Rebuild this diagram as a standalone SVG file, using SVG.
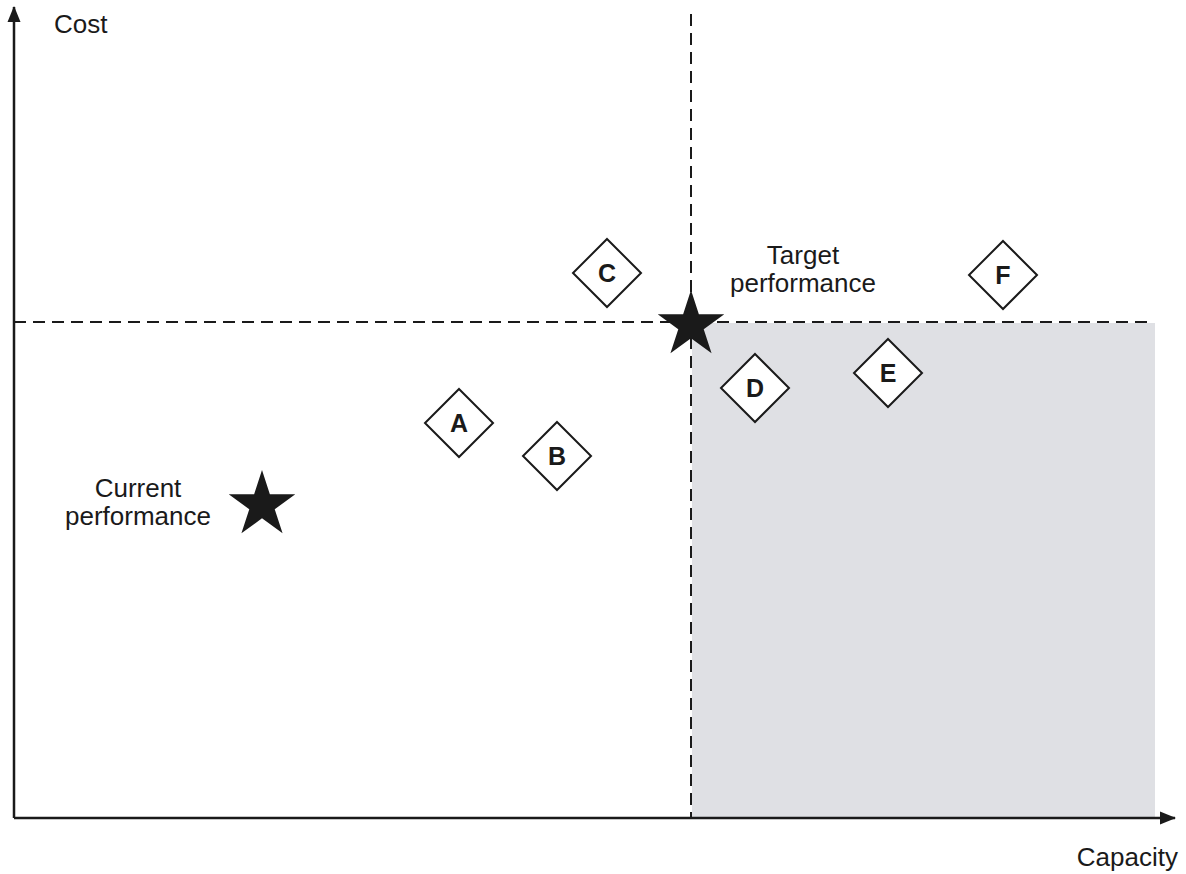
<svg xmlns="http://www.w3.org/2000/svg" width="1186" height="874" viewBox="0 0 1186 874">
<defs>
<style>
text{font-family:"Liberation Sans",Arial,sans-serif;fill:#1a1a1a}
.lbl{font-size:26px}
.let{font-size:25px;font-weight:bold;text-anchor:middle}
.dia{fill:#fff;stroke:#1a1a1a;stroke-width:2}
.dash{stroke:#1a1a1a;stroke-width:2;stroke-dasharray:12 7;fill:none}
.axis{stroke:#1a1a1a;stroke-width:2.5;fill:none}
.star{fill:#1a1a1a}
</style>
<marker id="arr" markerWidth="16" markerHeight="16" refX="15" refY="8" orient="auto" markerUnits="userSpaceOnUse" viewBox="0 0 16 16">
<path d="M0,1.5 L16,8 L0,14.5 z" fill="#1a1a1a"/>
</marker>
<polygon id="starshape" points="0,-35 7.86,-10.82 33.29,-10.82 12.72,4.13 20.57,28.32 0,13.37 -20.57,28.32 -12.72,4.13 -33.29,-10.82 -7.86,-10.82"/>
<polygon id="diamond" points="0,-34 34,0 0,34 -34,0"/>
</defs>
<rect id="region" x="692" y="323" width="463" height="494" fill="#dfe0e4"/>
<g id="connectors">
<line class="dash" x1="14" y1="322" x2="1148" y2="322"/>
<line class="dash" x1="691" y1="14" x2="691" y2="818"/>
<line id="y-axis" class="axis" x1="14" y1="818" x2="14" y2="7" marker-end="url(#arr)"/>
<line id="x-axis" class="axis" x1="14" y1="818" x2="1175" y2="818" marker-end="url(#arr)"/>
</g>
<text class="lbl" x="54" y="33">Cost</text>
<text class="lbl" x="1178" y="866" text-anchor="end">Capacity</text>
<g id="target">
<use href="#starshape" class="star" x="691" y="325"/>
<text class="lbl" x="803" y="264" text-anchor="middle">Target</text>
<text class="lbl" x="803" y="292" text-anchor="middle">performance</text>
</g>
<g id="current">
<use href="#starshape" class="star" x="262" y="505"/>
<text class="lbl" x="138" y="497" text-anchor="middle">Current</text>
<text class="lbl" x="138" y="525" text-anchor="middle">performance</text>
</g>
<g id="A"><use href="#diamond" class="dia" x="459" y="423"/><text class="let" x="459" y="432">A</text></g>
<g id="B"><use href="#diamond" class="dia" x="557" y="456"/><text class="let" x="557" y="465">B</text></g>
<g id="C"><use href="#diamond" class="dia" x="607" y="273"/><text class="let" x="607" y="282">C</text></g>
<g id="D"><use href="#diamond" class="dia" x="755" y="388"/><text class="let" x="755" y="397">D</text></g>
<g id="E"><use href="#diamond" class="dia" x="888" y="373"/><text class="let" x="888" y="382">E</text></g>
<g id="F"><use href="#diamond" class="dia" x="1003" y="275"/><text class="let" x="1003" y="284">F</text></g>
</svg>
